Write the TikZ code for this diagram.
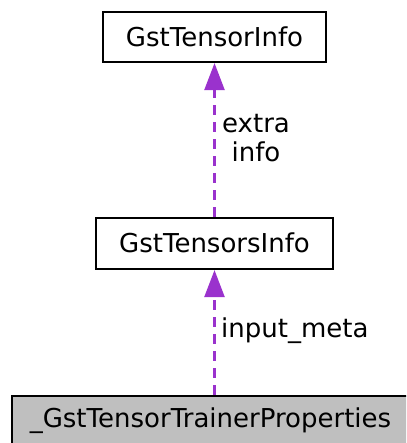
\documentclass[tikz,border=0pt]{standalone}
\usepackage{fontspec}
\setmainfont{DejaVu Sans}
\usetikzlibrary{arrows.meta}
\definecolor{edgepurple}{HTML}{9A32CD}
\definecolor{boxgray}{HTML}{BFBFBF}
\tikzset{
  classbox/.style={draw=black, line width=2.2pt, inner sep=0pt, text height=18.9pt, text depth=0pt,
    font=\fontsize{26}{29}\selectfont},
  usage/.style={draw=edgepurple, line width=2.4pt, dash pattern=on 10pt off 7pt,
    -{Triangle[length=27pt,width=20pt]}, color=edgepurple, shorten >=0pt},
  edgelabel/.style={inner sep=0pt, font=\fontsize{26}{29}\selectfont, align=center}
}
\begin{document}
\begin{tikzpicture}[x=1pt,y=1pt]
\useasboundingbox (0,0) rectangle (406,443);
\clip (0,0) rectangle (406,443);
\node[classbox, minimum width=223pt, minimum height=50pt] (info) at (214.5,406) {GstTensorInfo};
\node[classbox, minimum width=237pt, minimum height=51pt] (infos) at (214.5,199.5) {GstTensorsInfo};
\node[classbox, fill=boxgray, minimum width=397pt, minimum height=52pt, text depth=8pt] (props) at (210.5,21) {\_GstTensorTrainerProperties};
\draw[usage] (infos.north) -- (info.south);
\draw[usage] (props.north -| infos.south) -- (infos.south);
\node[edgelabel, anchor=base] (lbl1) at (256,281) {extra\\info};
\node[edgelabel, anchor=base west] (lbl2) at (221,105) {input\_meta};
\end{tikzpicture}
\end{document}
